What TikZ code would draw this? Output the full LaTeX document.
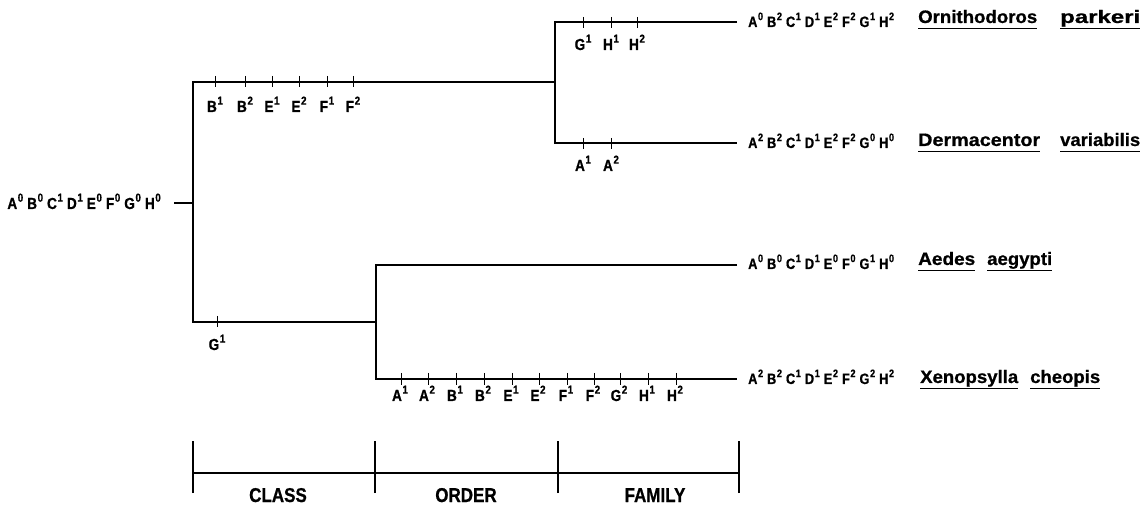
\documentclass[tikz,border=0pt]{standalone}
\usepackage{fontspec}
\usepackage{graphicx}
\setmainfont{Liberation Sans}
\newfontfamily\cond{Liberation Sans}[FakeStretch=0.85,FakeBold=0.8]
\newfontfamily\heavy{Liberation Sans}[FakeBold=0.8]
\newcommand\supr[1]{\hspace{0.6pt}\raisebox{0.46em}{\scalebox{0.72}{#1}}}
\newcommand\gpair[2]{#1\supr{#2}\hspace{4pt}}
% a species word set to a given width and underlined
\newcommand\taxon[2]{\rlap{\rule[-6pt]{#1}{1.4pt}}\resizebox{#1}{\height}{#2}}

\begin{document}
\begin{tikzpicture}[x=1pt,y=-1pt,
  tree/.style={line width=2pt},
  tickmark/.style={line width=1pt},
  tlab/.style={font=\cond\bfseries\fontsize{16}{16}\selectfont, inner sep=0pt, anchor=base},
  geno/.style={font=\cond\bfseries\fontsize{15}{15}\selectfont, inner sep=0pt, anchor=base west},
  species/.style={font=\heavy\bfseries\fontsize{18}{18}\selectfont, inner sep=0pt, anchor=base west},
  rank/.style={font=\cond\bfseries\fontsize{20}{20}\selectfont, inner sep=0pt, anchor=base},
  scalebar/.style={line width=1.3pt}
]
\useasboundingbox (0,0) rectangle (1141,510);

% branch points
\coordinate (r)  at (193,203);
\coordinate (n1) at (555,82);
\coordinate (n2) at (376,322);
\coordinate (rin) at (174,203);

% leaf ends
\coordinate (e1) at (737,22);
\coordinate (e2) at (737,143);
\coordinate (e3) at (737,265);
\coordinate (e4) at (737,379);

% ancestral genotype
\node[geno, anchor=base east, font=\cond\bfseries\fontsize{16}{16}\selectfont] (g0) at (161,209)
  {\gpair A0\gpair B0\gpair C1\gpair D1\gpair E0\gpair F0\gpair G0H\supr{0}};

% leaf genotypes
\node[geno] (t1) at (748,27) {\gpair A0\gpair B2\gpair C1\gpair D1\gpair E2\gpair F2\gpair G1H\supr{2}};
\node[geno] (t2) at (748,148) {\gpair A2\gpair B2\gpair C1\gpair D1\gpair E2\gpair F2\gpair G0H\supr{0}};
\node[geno] (t3) at (748,269) {\gpair A0\gpair B0\gpair C1\gpair D1\gpair E0\gpair F0\gpair G1H\supr{0}};
\node[geno] (t4) at (748,384) {\gpair A2\gpair B2\gpair C1\gpair D1\gpair E2\gpair F2\gpair G2H\supr{2}};

% species names
\node[species] (s1) at (918,23)  {\taxon{119pt}{Ornithodoros}\hspace{23pt}\taxon{80pt}{parkeri}};
\node[species] (s2) at (918,146) {\taxon{122pt}{Dermacentor}\hspace{20pt}\taxon{80pt}{variabilis}};
\node[species] (s3) at (918,265) {\taxon{57pt}{Aedes}\hspace{12pt}\taxon{65pt}{aegypti}};
\node[species] (s4) at (920,383) {\taxon{98pt}{Xenopsylla}\hspace{12pt}\taxon{70pt}{cheopis}};

% tree branches
\draw[tree] (rin) -- (r);
\draw[tree] (n1) -| (r) |- (n2);
\draw[tree] (e1) -| (n1) |- (e2);
\draw[tree] (e3) -| (n2) |- (e4);

% character changes along the branches
\foreach \x/\c/\s in {215/B/1,245/B/2,272/E/1,299/E/2,327/F/1,353/F/2}{
  \draw[tickmark] (\x,76) -- (\x,87);
  \node[tlab] at (\x,112) {\c\supr{\s}};
}
\foreach \x/\c/\s in {583/G/1,611/H/1,637/H/2}{
  \draw[tickmark] (\x,17) -- (\x,28);
  \node[tlab] at (\x,50) {\c\supr{\s}};
}
\foreach \x/\c/\s in {583/A/1,611/A/2}{
  \draw[tickmark] (\x,138) -- (\x,149);
  \node[tlab] at (\x,171) {\c\supr{\s}};
}
\foreach \x/\c/\s in {217/G/1}{
  \draw[tickmark] (\x,316) -- (\x,327);
  \node[tlab] at (\x,350) {\c\supr{\s}};
}
\foreach \x/\c/\s in {401/A/1,428/A/2,456/B/1,484/B/2,512/E/1,539/E/2,567/F/1,594/F/2,620/G/2,648/H/1,676/H/2}{
  \draw[tickmark] (\x,373) -- (\x,385);
  \node[tlab] at (\x-1,401) {\c\supr{\s}};
}

% taxonomic rank scale
\coordinate (k0) at (193,473);
\coordinate (k1) at (375,473);
\coordinate (k2) at (558,473);
\coordinate (k3) at (739,473);
\draw[scalebar] (k0) -- (k3);
\foreach \k in {k0,k1,k2,k3}{
  \draw[scalebar] ([yshift=-20pt]\k) -- ([yshift=32pt]\k);
}
\node[rank] (c1) at (278,502) {CLASS};
\node[rank] (c2) at (466,502) {ORDER};
\node[rank] (c3) at (655,502) {FAMILY};
\end{tikzpicture}
\end{document}
